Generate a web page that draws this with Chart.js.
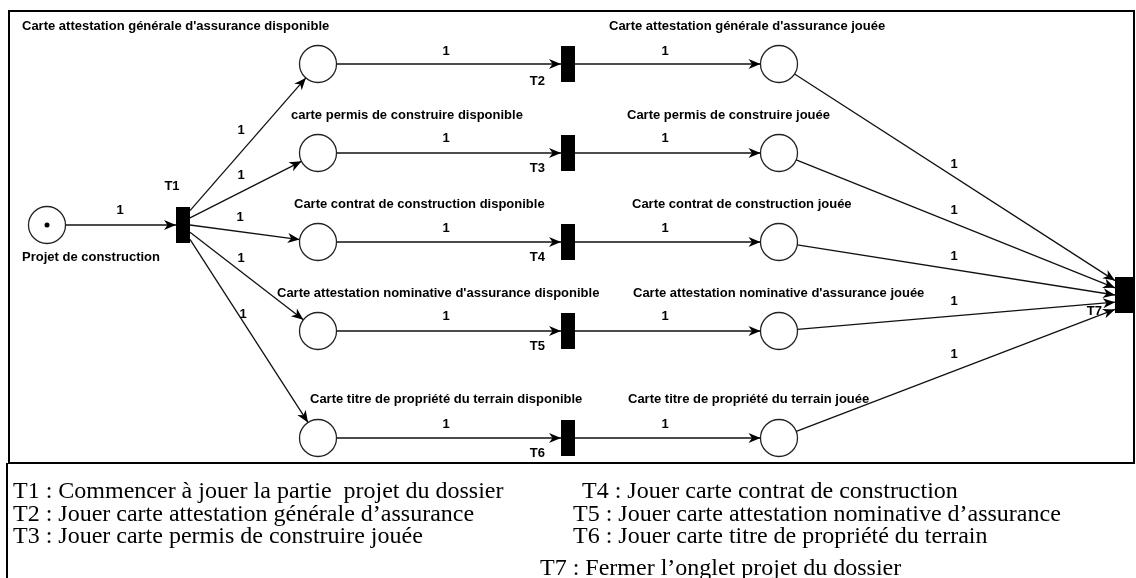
<!DOCTYPE html>
<html>
<head>
<meta charset="utf-8">
<script src="https://cdn.jsdelivr.net/npm/chart.js@4.4.0/dist/chart.umd.min.js"></script>
<style>
  html, body { margin: 0; padding: 0; background: #fff; }
</style>
</head>
<body>
<canvas id="net" width="1136" height="578"></canvas>
<script>
// =================== Petri net data ===================

// places : name, centre, tokens
const placeNames = [
  "Projet de construction",
  "Carte attestation générale d'assurance disponible",
  "carte permis de construire disponible",
  "Carte contrat de construction disponible",
  "Carte attestation nominative d'assurance disponible",
  "Carte titre de propriété du terrain disponible",
  "Carte attestation générale d'assurance jouée",
  "Carte permis de construire jouée",
  "Carte contrat de construction jouée",
  "Carte attestation nominative d'assurance jouée",
  "Carte titre de propriété du terrain jouée",
];
const placeX = [47, 318, 318, 318, 318, 318, 779, 779, 779, 779, 779];
const placeY = [225, 64, 153, 242, 331, 438, 64, 153, 242, 331, 438];
const placeTokens = [1, 0, 0, 0, 0, 0, 0, 0, 0, 0, 0];

// transitions
const transNames = ["T1", "T2", "T3", "T4", "T5", "T6", "T7"];
const transX = [183, 568, 568, 568, 568, 568, 1124];
const transY = [225, 64, 153, 242, 331, 438, 295];

// arcs (p = place, t = transition) and their weights
const arcFrom = ["p0", "t0", "t0", "t0", "t0", "t0",
  "p1", "p2", "p3", "p4", "p5",
  "t1", "t2", "t3", "t4", "t5",
  "p6", "p7", "p8", "p9", "p10"];
const arcTo = ["t0", "p1", "p2", "p3", "p4", "p5",
  "t1", "t2", "t3", "t4", "t5",
  "p6", "p7", "p8", "p9", "p10",
  "t6", "t6", "t6", "t6", "t6"];
const arcWeights = [1, 1, 1, 1, 1, 1, 1, 1, 1, 1, 1, 1, 1, 1, 1, 1, 1, 1, 1, 1, 1];

// legend under the net
const legendLeft = [
  "T1 : Commencer à jouer la partie  projet du dossier",
  "T2 : Jouer carte attestation générale d’assurance",
  "T3 : Jouer carte permis de construire jouée",
];
const legendRight = [
  "T4 : Jouer carte contrat de construction",
  "T5 : Jouer carte attestation nominative d’assurance",
  "T6 : Jouer carte titre de propriété du terrain",
  "T7 : Fermer l’onglet projet du dossier",
];

// =================== layout / style ===================

const PLACE_R = 18.5;
const TRANS_W = [14, 14, 14, 14, 14, 14, 18];
const TRANS_H = 36;
const LABEL_FONT = 'bold 13px "Liberation Sans", Arial, sans-serif';
const LEGEND_FONT = '24px "Liberation Serif", "Times New Roman", serif';

const placeLabelAt = [
  [22, 257], [22, 26], [291, 115], [294, 204], [277, 293], [310, 399],
  [609, 26], [627, 115], [632, 204], [633, 293], [628, 399],
];
const transLabelAt = [
  [172, 186, "center"], [545, 81, "right"], [545, 168, "right"], [545, 257, "right"],
  [545, 346, "right"], [545, 453, "right"], [1102, 311, "right"],
];
const weightLabelAt = [
  [120, 210],
  [241, 130], [241, 175], [240, 217], [241, 258], [243, 314],
  [446, 51], [446, 138], [446, 228], [446, 316], [446, 424],
  [665, 51], [665, 138], [665, 228], [665, 316], [665, 424],
  [954, 164], [954, 210], [954, 256], [954, 301], [954, 354],
];
const legendLeftAt = [[13, 498], [13, 520.5], [13, 543]];
const legendRightAt = [[582, 498], [573, 520.5], [573, 543], [540, 575]];

// -------- arc geometry --------

function node(id) {
  const i = parseInt(id.slice(1));
  return id[0] === "p"
    ? { kind: "p", i: i, x: placeX[i], y: placeY[i] }
    : { kind: "t", i: i, x: transX[i], y: transY[i] };
}

// port on a transition side, spread when several arcs share a side
function transPort(t, other, side) {
  const idx = [];
  arcFrom.forEach((f, k) => {
    if (side > 0 && f === "t" + t.i) idx.push(node(arcTo[k]));
    if (side < 0 && arcTo[k] === "t" + t.i) idx.push(node(f));
  });
  idx.sort((a, b) => a.y - b.y);
  const n = idx.length;
  const pos = idx.findIndex((o) => o.kind === other.kind && o.i === other.i);
  const top = t.y - TRANS_H / 2;
  const y = n === 1 ? t.y : top + (TRANS_H * (pos + 0.5)) / n;
  return { x: t.x + (side * TRANS_W[t.i]) / 2, y: y };
}

function placeEdge(p, toward) {
  const dx = toward.x - p.x;
  const dy = toward.y - p.y;
  const len = Math.hypot(dx, dy);
  return { x: p.x + (dx / len) * PLACE_R, y: p.y + (dy / len) * PLACE_R };
}

function arcPoints(k) {
  const a = node(arcFrom[k]);
  const b = node(arcTo[k]);
  let s, e;
  if (a.kind === "p") {
    e = transPort(b, a, -1);
    s = placeEdge(a, e);
  } else {
    s = transPort(a, b, 1);
    e = placeEdge(b, s);
  }
  return [s, e];
}

// -------- transition glyphs --------

function barGlyph(w, h) {
  const c = document.createElement("canvas");
  c.width = w;
  c.height = h;
  const g = c.getContext("2d");
  g.fillStyle = "#000";
  g.fillRect(0, 0, w, h);
  return c;
}

// =================== datasets ===================

const datasets = [];

arcFrom.forEach((f, k) => {
  datasets.push({
    label: "arc" + k,
    isArc: true,
    data: arcPoints(k),
    showLine: true,
    borderColor: "#111",
    borderWidth: 1.3,
    pointRadius: 0,
    clip: false,
    order: 5,
  });
});

datasets.push({
  label: "places",
  data: placeX.map((x, i) => ({ x: x, y: placeY[i] })),
  pointStyle: "circle",
  pointRadius: PLACE_R,
  pointBackgroundColor: "#fff",
  pointBorderColor: "#222",
  pointBorderWidth: 1.3,
  clip: false,
  order: 2,
});

datasets.push({
  label: "transitions",
  data: transX.map((x, i) => ({ x: x, y: transY[i] })),
  pointStyle: transX.map((x, i) => barGlyph(TRANS_W[i], TRANS_H)),
  pointRadius: 1,
  clip: false,
  order: 2,
});

datasets.push({
  label: "tokens",
  data: placeX
    .map((x, i) => ({ x: x, y: placeY[i], n: placeTokens[i] }))
    .filter((d) => d.n > 0),
  pointStyle: "circle",
  pointRadius: 2.5,
  pointBackgroundColor: "#000",
  pointBorderWidth: 0,
  clip: false,
  order: 1,
});

// =================== plugins ===================

const framePlugin = {
  id: "frame",
  beforeDatasetsDraw(chart) {
    const ctx = chart.ctx;
    ctx.save();
    ctx.strokeStyle = "#000";
    ctx.lineWidth = 2;
    ctx.strokeRect(9, 11, 1125, 452);
    ctx.beginPath();
    ctx.moveTo(7, 463);
    ctx.lineTo(7, 578);
    ctx.stroke();
    ctx.restore();
  },
};

const arrowPlugin = {
  id: "arrows",
  afterDatasetsDraw(chart) {
    const ctx = chart.ctx;
    chart.data.datasets.forEach((ds, i) => {
      if (!ds.isArc) return;
      const pts = chart.getDatasetMeta(i).data;
      const p0 = pts[0];
      const p1 = pts[pts.length - 1];
      const a = Math.atan2(p1.y - p0.y, p1.x - p0.x);
      ctx.save();
      ctx.translate(p1.x, p1.y);
      ctx.rotate(a);
      ctx.beginPath();
      ctx.moveTo(0, 0);
      ctx.lineTo(-12, -5);
      ctx.lineTo(-8.5, 0);
      ctx.lineTo(-12, 5);
      ctx.closePath();
      ctx.fillStyle = "#000";
      ctx.fill();
      ctx.restore();
    });
  },
};

const textPlugin = {
  id: "texts",
  afterDraw(chart) {
    const ctx = chart.ctx;
    const sx = chart.scales.x;
    const sy = chart.scales.y;
    ctx.save();
    ctx.fillStyle = "#000";
    ctx.font = LABEL_FONT;
    ctx.textBaseline = "middle";

    ctx.textAlign = "left";
    placeNames.forEach((name, i) => {
      const [x, y] = placeLabelAt[i];
      ctx.fillText(name, sx.getPixelForValue(x), sy.getPixelForValue(y));
    });

    transNames.forEach((name, i) => {
      const [x, y, al] = transLabelAt[i];
      ctx.textAlign = al;
      ctx.fillText(name, sx.getPixelForValue(x), sy.getPixelForValue(y));
    });

    ctx.textAlign = "center";
    arcWeights.forEach((w, k) => {
      const [x, y] = weightLabelAt[k];
      ctx.fillText(String(w), sx.getPixelForValue(x), sy.getPixelForValue(y));
    });

    ctx.font = LEGEND_FONT;
    ctx.textAlign = "left";
    ctx.textBaseline = "alphabetic";
    legendLeft.forEach((t, i) => {
      ctx.fillText(t, legendLeftAt[i][0], legendLeftAt[i][1]);
    });
    legendRight.forEach((t, i) => {
      ctx.fillText(t, legendRightAt[i][0], legendRightAt[i][1]);
    });
    ctx.restore();
  },
};

// =================== chart ===================

new Chart(document.getElementById("net"), {
  type: "scatter",
  data: { datasets: datasets },
  options: {
    responsive: false,
    animation: false,
    devicePixelRatio: 1,
    events: [],
    layout: { padding: 0, autoPadding: false },
    scales: {
      x: { type: "linear", min: 0, max: 1136, display: false },
      y: { type: "linear", min: 0, max: 578, reverse: true, display: false },
    },
    plugins: {
      legend: { display: false },
      tooltip: { enabled: false },
    },
  },
  plugins: [framePlugin, arrowPlugin, textPlugin],
});
</script>
</body>
</html>
